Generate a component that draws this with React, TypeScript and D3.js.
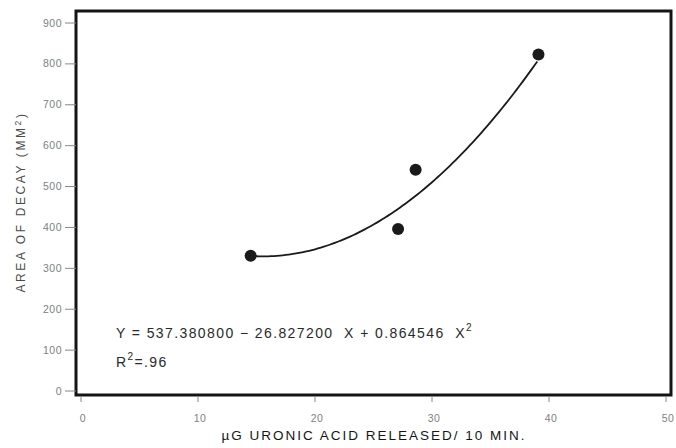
import React, { useEffect, useRef } from 'react';
import * as d3 from 'd3';

// measured points
const uronicAcid = [14.5, 27.1, 28.6, 39.1];
const decayArea = [331, 396, 541, 823];

// fitted quadratic printed on the chart
const fitCoef = [537.3808, -26.8272, 0.864546];
const fitRange = [14.5, 39.1];

const xTicks = [0, 10, 20, 30, 40, 50];
const yTicks = [0, 100, 200, 300, 400, 500, 600, 700, 800, 900];

const xTitle = 'µG URONIC ACID RELEASED/ 10 MIN.';
const yTitle = 'AREA OF DECAY (MM';
const eqText = 'Y = 537.380800 − 26.827200  X + 0.864546  X';
const r2Text = '=.96';

export default function App() {
    const ref = useRef<SVGSVGElement>(null);

    useEffect(() => {
        const svg = d3.select(ref.current);
        svg.selectAll('*').remove();

        const width = 676, height = 448;
        const frame = { left: 76, right: 671, top: 11, bottom: 395 };

        /* Scales */
        const x = d3.scaleLinear().domain([0, 50]).range([81, 666]);
        const y = d3.scaleLinear().domain([0, 900]).range([391, 23]);

        svg.append('rect')
            .attr('width', width)
            .attr('height', height)
            .attr('fill', '#fff');

        // frame box
        svg.append('rect')
            .attr('x', frame.left)
            .attr('y', frame.top)
            .attr('width', frame.right - frame.left)
            .attr('height', frame.bottom - frame.top)
            .attr('fill', 'none')
            .attr('stroke', '#141414')
            .attr('stroke-width', 3);

        // x ticks
        const xg = svg.append('g');
        xg.selectAll('line').data(xTicks).enter().append('line')
            .attr('x1', d => x(d)).attr('x2', d => x(d))
            .attr('y1', frame.bottom + 2).attr('y2', frame.bottom + 7)
            .attr('stroke', '#888').attr('stroke-width', 1);
        xg.selectAll('text').data(xTicks).enter().append('text')
            .attr('x', d => x(d) + 2)
            .attr('y', 422)
            .attr('text-anchor', 'middle')
            .attr('font-family', 'Liberation Sans, sans-serif')
            .attr('font-size', 10.5)
            .attr('letter-spacing', 0.5)
            .attr('fill', '#808080')
            .text(d => d);

        // y ticks
        const yg = svg.append('g');
        yg.selectAll('line').data(yTicks).enter().append('line')
            .attr('x1', frame.left - 11).attr('x2', frame.left)
            .attr('y1', d => y(d)).attr('y2', d => y(d))
            .attr('stroke', '#888').attr('stroke-width', 1);
        yg.selectAll('text').data(yTicks).enter().append('text')
            .attr('x', 62)
            .attr('y', d => y(d) + 3.5)
            .attr('text-anchor', 'end')
            .attr('font-family', 'Liberation Sans, sans-serif')
            .attr('font-size', 10.5)
            .attr('letter-spacing', 0.5)
            .attr('fill', '#808080')
            .text(d => d);

        // axis titles
        svg.append('text')
            .attr('x', 374)
            .attr('y', 440)
            .attr('text-anchor', 'middle')
            .attr('font-family', 'Liberation Sans, sans-serif')
            .attr('font-size', 13.5)
            .attr('letter-spacing', 2)
            .attr('fill', '#161616')
            .text(xTitle);

        const yt = svg.append('text')
            .attr('transform', 'translate(25,202) rotate(-90)')
            .attr('text-anchor', 'middle')
            .attr('font-family', 'Liberation Sans, sans-serif')
            .attr('font-size', 12)
            .attr('letter-spacing', 2.6)
            .attr('fill', '#4a4a4a');
        yt.append('tspan').text(yTitle);
        yt.append('tspan').attr('dy', -4).attr('font-size', 8.5).text('2');
        yt.append('tspan').attr('dy', 4).text(')');

        // fitted curve
        const fit = (v: number) => fitCoef[0] + fitCoef[1] * v + fitCoef[2] * v * v;
        const xs = d3.range(fitRange[0], fitRange[1] + 0.01, 0.25);
        const line = d3.line<number>()
            .x(d => x(d))
            .y(d => y(fit(d)))
            .curve(d3.curveMonotoneX);
        svg.append('path')
            .datum(xs)
            .attr('d', line)
            .attr('fill', 'none')
            .attr('stroke', '#1a1a1a')
            .attr('stroke-width', 1.8);

        // points
        svg.selectAll('circle.pt').data(uronicAcid).enter().append('circle')
            .attr('class', 'pt')
            .attr('cx', d => x(d))
            .attr('cy', (d, i) => y(decayArea[i]))
            .attr('r', 6)
            .attr('fill', '#1a1a1a');

        // equation text
        const eq = svg.append('text')
            .attr('x', 116)
            .attr('y', 338)
            .attr('font-family', 'Liberation Sans, sans-serif')
            .attr('font-size', 14)
            .attr('letter-spacing', 1.4)
            .style('white-space', 'pre')
            .attr('fill', '#2a2a2a');
        eq.append('tspan').text(eqText);
        eq.append('tspan').attr('dy', -7).attr('font-size', 10).text('2');

        const r2 = svg.append('text')
            .attr('x', 116)
            .attr('y', 367)
            .attr('font-family', 'Liberation Sans, sans-serif')
            .attr('font-size', 14)
            .attr('letter-spacing', 1.4)
            .attr('fill', '#2a2a2a');
        r2.append('tspan').text('R');
        r2.append('tspan').attr('dy', -7).attr('font-size', 10).text('2');
        r2.append('tspan').attr('dy', 7).text(r2Text);
    }, []);

    return (
        <svg ref={ref} width={676} height={448}
            style={{ position: 'absolute', left: 0, top: 0, display: 'block' }} />
    );
}
